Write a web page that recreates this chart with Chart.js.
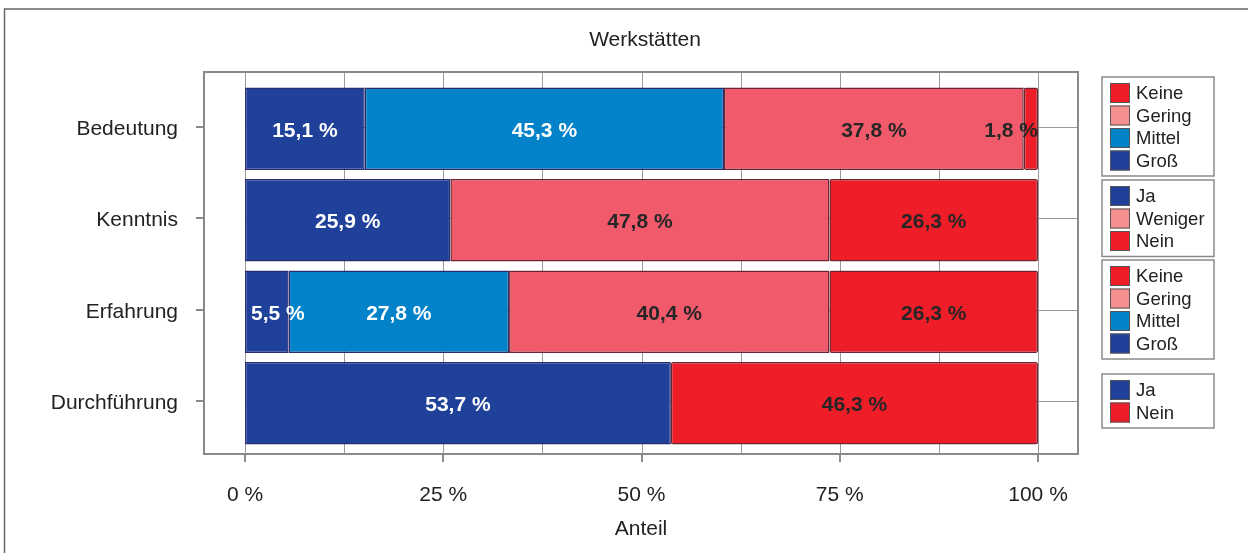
<!DOCTYPE html>
<html><head><meta charset="utf-8">
<script src="https://cdn.jsdelivr.net/npm/chart.js@4"></script>
<style>html,body{margin:0;padding:0;background:#fff}#wrap{width:1248px;height:553px}</style>
</head><body><div id="wrap"><canvas id="c" width="1248" height="553"></canvas></div>
<script>
// ---- data ----
const categories = ['Bedeutung', 'Kenntnis', 'Erfahrung', 'Durchführung'];
const gross   = [15.1, null, 5.5, null];
const ja      = [null, 25.9, null, 53.7];
const mittel  = [45.3, null, 27.8, null];
const gering  = [37.8, null, 40.4, null];
const weniger = [null, 47.8, null, null];
const keine   = [1.8, null, 26.3, null];
const nein    = [null, 26.3, null, 46.3];
const xTicks = [0, 25, 50, 75, 100];
const gridSteps = [0, 12.5, 25, 37.5, 50, 62.5, 75, 87.5, 100];
const legendOrder = [
  ['Keine', 'Gering', 'Mittel', 'Groß'],
  ['Ja', 'Weniger', 'Nein'],
  ['Keine', 'Gering', 'Mittel', 'Groß'],
  ['Ja', 'Nein']
];
const chartTitle = 'Werkstätten';
const axisTitle = 'Anteil';

// ---- styles ----
const FONT = "'Liberation Sans', Arial, Helvetica, sans-serif";
const C_DARK = '#1f4199', C_MID = '#0282c9', C_PINK = '#f05a6a', C_RED = '#ee1d27';
const TXT = '#222222';
const GRID = '#9a9a9a';
const FRAME = '#8a8a8a';

function ds(label, data, bg, legendColor, textColor, border) {
  return {
    label, data, backgroundColor: bg, legendColor, textColor,
    borderColor: border, borderWidth: 1.5,
    borderSkipped: false, borderRadius: 2,
    barPercentage: 0.9, categoryPercentage: 1.0
  };
}

const B_BLUE = '#2a2c70', B_RED = '#6e2430';
const datasets = [
  ds('Groß', gross, C_DARK, C_DARK, '#ffffff', B_BLUE),
  ds('Ja', ja, C_DARK, C_DARK, '#ffffff', B_BLUE),
  ds('Mittel', mittel, C_MID, C_MID, '#ffffff', B_BLUE),
  ds('Gering', gering, C_PINK, '#f4918f', '#262626', B_RED),
  ds('Weniger', weniger, C_PINK, '#f4918f', '#262626', B_RED),
  ds('Keine', keine, C_RED, C_RED, '#262626', B_RED),
  ds('Nein', nein, C_RED, C_RED, '#262626', B_RED)
];

const BOX = { padTop: 11, padBottom: 5 };

const decor = {
  id: 'decor',
  beforeDatasetsDraw(chart) {
    const { ctx, chartArea: a, scales: { x, y } } = chart;
    const top = a.top - BOX.padTop, bottom = a.bottom + BOX.padBottom;
    ctx.save();
    ctx.strokeStyle = GRID; ctx.lineWidth = 1;
    gridSteps.forEach(v => {
      const px = Math.round(x.getPixelForValue(v)) + 0.5;
      ctx.beginPath(); ctx.moveTo(px, top); ctx.lineTo(px, bottom); ctx.stroke();
    });
    categories.forEach((c, i) => {
      const py = Math.round(y.getPixelForValue(i)) - 2 + 0.5;
      ctx.beginPath(); ctx.moveTo(x.getPixelForValue(0), py); ctx.lineTo(a.right, py); ctx.stroke();
    });
    ctx.restore();
  },
  afterDatasetsDraw(chart) {
    const { ctx, chartArea: a, scales: { x, y } } = chart;
    const top = a.top - BOX.padTop, bottom = a.bottom + BOX.padBottom;
    ctx.save();
    // plot box
    ctx.strokeStyle = FRAME; ctx.lineWidth = 2;
    ctx.strokeRect(a.left, top, a.right - a.left, bottom - top);
    // major ticks below
    xTicks.forEach(v => {
      const px = Math.round(x.getPixelForValue(v));
      ctx.beginPath(); ctx.moveTo(px, bottom); ctx.lineTo(px, bottom + 8); ctx.stroke();
    });
    // category ticks left
    categories.forEach((c, i) => {
      const py = Math.round(y.getPixelForValue(i)) - 2;
      ctx.beginPath(); ctx.moveTo(a.left - 8, py); ctx.lineTo(a.left, py); ctx.stroke();
    });
    // bar value labels
    ctx.font = 'bold 21px ' + FONT;
    ctx.textBaseline = 'middle';
    ctx.textAlign = 'center';
    const maxRight = x.getPixelForValue(100);
    const minLeft = x.getPixelForValue(0);
    chart.data.datasets.forEach((d, di) => {
      const meta = chart.getDatasetMeta(di);
      meta.data.forEach((el, i) => {
        const v = d.data[i];
        if (v === null || v === undefined) return;
        const txt = v.toFixed(1).replace('.', ',') + ' %';
        const w = ctx.measureText(txt).width;
        let cx = (el.x + el.base) / 2;
        if (cx + w / 2 > maxRight) cx = maxRight - w / 2;
        if (cx - w / 2 < minLeft + 6) cx = minLeft + 6 + w / 2;
        ctx.fillStyle = d.textColor;
        ctx.fillText(txt, cx, el.y + 2);
      });
    });
    // title
    ctx.fillStyle = TXT;
    ctx.font = '21px ' + FONT;
    ctx.textAlign = 'center';
    ctx.fillText(chartTitle, (a.left + a.right) / 2 + 4, 40);
    // legends
    const byLabel = {};
    chart.data.datasets.forEach(d => byLabel[d.label] = d);
    const rowH = 22.5, bx = a.right + 24, bw = 112;
    legendOrder.forEach((items, ci) => {
      const cy = y.getPixelForValue(ci) - 2;
      const bh = items.length * rowH + 9;
      const by = Math.round(cy - bh / 2);
      ctx.strokeStyle = FRAME; ctx.lineWidth = 1.5;
      ctx.strokeRect(bx, by, bw, bh);
      ctx.font = '18.5px ' + FONT;
      ctx.textAlign = 'left';
      items.forEach((name, k) => {
        const d = byLabel[name];
        const sy = by + 6 + k * rowH;
        ctx.fillStyle = d.legendColor;
        ctx.fillRect(bx + 8, sy, 20, 20);
        ctx.strokeStyle = '#555'; ctx.lineWidth = 1;
        ctx.strokeRect(bx + 8.5, sy + 0.5, 19, 19);
        ctx.fillStyle = TXT;
        ctx.fillText(name, bx + 34, sy + 11);
      });
    });
    // outer frame
    ctx.strokeStyle = '#666'; ctx.lineWidth = 1.5;
    ctx.beginPath(); ctx.moveTo(4.5, chart.height); ctx.lineTo(4.5, 9); ctx.lineTo(chart.width, 9); ctx.stroke();
    ctx.restore();
  }
};

new Chart(document.getElementById('c'), {
  type: 'bar',
  data: { labels: categories, datasets },
  options: {
    indexAxis: 'y',
    responsive: false,
    animation: false,
    devicePixelRatio: 1,
    layout: { padding: { left: 0, right: 170, top: 83, bottom: 9 } },
    plugins: { legend: { display: false }, title: { display: false }, tooltip: { enabled: false } },
    scales: {
      x: {
        type: 'linear', stacked: true, min: -5.17, max: 105.04,
        grid: { display: false, drawTicks: false }, border: { display: false },
        afterBuildTicks: s => { s.ticks = xTicks.map(v => ({ value: v })); },
        afterFit: s => { s.height = 95; },
        ticks: { callback: v => v + ' %', color: TXT, font: { family: FONT, size: 21 }, padding: 34, maxRotation: 0 },
        title: { display: true, text: axisTitle, color: TXT, font: { family: FONT, size: 21 }, padding: { top: 10, bottom: 2 } }
      },
      y: {
        type: 'category', stacked: true, offset: true,
        grid: { display: false, drawTicks: false }, border: { display: false },
        afterFit: s => { s.width = 204; },
        ticks: { color: TXT, font: { family: FONT, size: 21 }, padding: 26 }
      }
    }
  },
  plugins: [decor]
});
</script>
</body></html>
